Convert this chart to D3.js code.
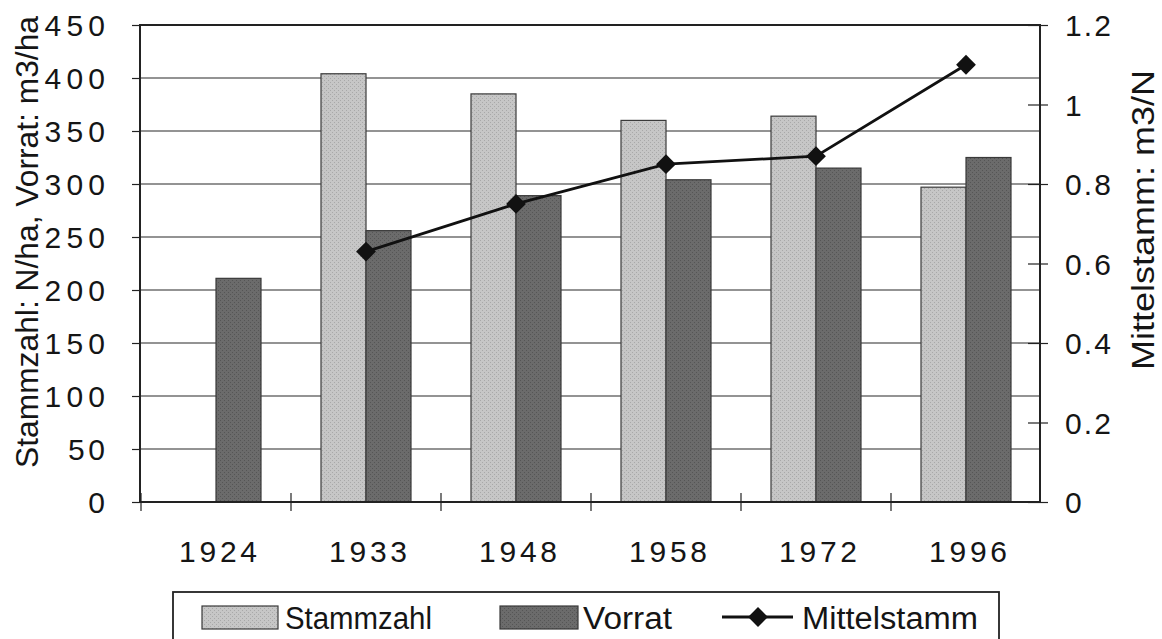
<!DOCTYPE html>
<html>
<head>
<meta charset="utf-8">
<script src="https://cdn.jsdelivr.net/npm/d3@7"></script>
<style>
  html, body { margin: 0; padding: 0; background: #fff; }
  svg { display: block; font-family: "Liberation Sans", Arial, Helvetica, sans-serif; }
</style>
</head>
<body>
<svg id="chart" width="1162" height="639"></svg>
<script>
const years = ["1924", "1933", "1948", "1958", "1972", "1996"];
const stammzahl = [null, 404, 385, 360, 364, 297];
const vorrat = [211, 256, 289, 304, 315, 325];
const mittelstamm = [null, 0.63, 0.75, 0.85, 0.87, 1.10];
const leftTicks = [0, 50, 100, 150, 200, 250, 300, 350, 400, 450];
const rightTicks = [0, 0.2, 0.4, 0.6, 0.8, 1, 1.2];
const seriesNames = ["Stammzahl", "Vorrat", "Mittelstamm"];
const leftTitle = "Stammzahl:  N/ha,  Vorrat:  m3/ha";
const rightTitle = "Mittelstamm:  m3/N";

const svg = d3.select("#chart");
const L = 140, R = 1040, T = 25, B = 502;
const colLight = "#c6c6c6", colDark = "#6b6b6b", colEdge = "#3a3a3a";
const ink = "#151515";

// texture patterns
const defs = svg.append("defs");
function texture(id, base, dot) {
  const p = defs.append("pattern").attr("id", id).attr("width", 4).attr("height", 4)
    .attr("patternUnits", "userSpaceOnUse");
  p.append("rect").attr("width", 4).attr("height", 4).attr("fill", base);
  p.append("rect").attr("x", 0).attr("y", 0).attr("width", 1).attr("height", 1).attr("fill", dot);
  p.append("rect").attr("x", 2).attr("y", 2).attr("width", 1).attr("height", 1).attr("fill", dot);
}
texture("texLight", colLight, "#a8a8a8");
texture("texDark", colDark, "#555");

const x = d3.scaleBand().domain(years).range([L + 1, R + 1]).padding(0);
const y = d3.scaleLinear().domain([0, 450]).range([B, T]);
const y2 = d3.scaleLinear().domain([0, 1.2]).range([B, T]);
const barW = 45;

// gridlines
svg.append("g").selectAll("line").data(leftTicks.filter(d => d > 0 && d < 450)).join("line")
  .attr("x1", L).attr("x2", R).attr("y1", d => y(d)).attr("y2", d => y(d))
  .attr("stroke", "#6f6f6f").attr("stroke-width", 1.4);

// bars
const data = years.map((yr, i) => ({ yr, s: stammzahl[i], v: vorrat[i], m: mittelstamm[i] }));
svg.append("g").selectAll("rect").data(data.filter(d => d.s != null)).join("rect")
  .attr("x", d => x(d.yr) + x.bandwidth() / 2 - barW)
  .attr("y", d => y(d.s)).attr("width", barW).attr("height", d => B - y(d.s))
  .attr("fill", "url(#texLight)").attr("stroke", colEdge).attr("stroke-width", 1.2);
svg.append("g").selectAll("rect").data(data.filter(d => d.v != null)).join("rect")
  .attr("x", d => x(d.yr) + x.bandwidth() / 2)
  .attr("y", d => y(d.v)).attr("width", barW).attr("height", d => B - y(d.v))
  .attr("fill", "url(#texDark)").attr("stroke", colEdge).attr("stroke-width", 1.2);

// frame
svg.append("rect").attr("x", L).attr("y", T).attr("width", R - L).attr("height", B - T)
  .attr("fill", "none").attr("stroke", "#222").attr("stroke-width", 2);

// left axis
const yAxis = d3.axisLeft(y).tickValues(leftTicks).tickSize(8).tickPadding(27);
const gy = svg.append("g").attr("transform", `translate(${L},0)`).call(yAxis);
gy.select(".domain").remove();
gy.selectAll("line").attr("stroke", "#222").attr("stroke-width", 1.2);
gy.selectAll("text").attr("font-size", 30).attr("fill", ink).attr("dy", "0.36em")
  .attr("textLength", d => 23.5 * String(d).length - 10).attr("lengthAdjust", "spacing");

// right axis
const fmt2 = d => String(+d.toFixed(1));
const yAxis2 = d3.axisRight(y2).tickValues(rightTicks).tickSize(8).tickPadding(17).tickFormat(fmt2);
const gy2 = svg.append("g").attr("transform", `translate(${R},0)`).call(yAxis2);
gy2.select(".domain").remove();
gy2.selectAll("line").attr("x1", -12).attr("stroke", "#222").attr("stroke-width", 1.2);
gy2.selectAll("text").attr("font-size", 30).attr("fill", ink).attr("dy", "0.36em")
  .attr("textLength", d => fmt2(d).length === 1 ? 15 : 46).attr("lengthAdjust", "spacing");

// x axis ticks at category boundaries
const bounds = years.map(yr => x(yr));
svg.append("g").selectAll("line").data(bounds).join("line")
  .attr("x1", d => d).attr("x2", d => d).attr("y1", B - 9).attr("y2", B + 9)
  .attr("stroke", "#222").attr("stroke-width", 1.2);
svg.append("g").selectAll("text").data(years).join("text")
  .attr("x", d => x(d) + x.bandwidth() / 2 + 2).attr("y", 562)
  .attr("text-anchor", "middle").attr("font-size", 30)
  .attr("textLength", 78).attr("lengthAdjust", "spacing")
  .attr("fill", ink).text(d => d);

// line
const lineData = data.filter(d => d.m != null);
const line = d3.line().x(d => x(d.yr) + x.bandwidth() / 2).y(d => y2(d.m));
svg.append("path").datum(lineData).attr("d", line)
  .attr("fill", "none").attr("stroke", "#111").attr("stroke-width", 2.8);
const diamond = d3.symbol().type(d3.symbolDiamond2).size(250);
svg.append("g").selectAll("path").data(lineData).join("path")
  .attr("transform", d => `translate(${x(d.yr) + x.bandwidth() / 2},${y2(d.m)})`)
  .attr("d", diamond).attr("fill", "#111");

// axis titles
svg.append("text").attr("transform", "translate(38,242) rotate(-90)")
  .attr("text-anchor", "middle").attr("font-size", 31).attr("fill", ink)
  .attr("textLength", 452).attr("lengthAdjust", "spacingAndGlyphs").text(leftTitle);
svg.append("text").attr("transform", "translate(1154,220) rotate(-90)")
  .attr("text-anchor", "middle").attr("font-size", 31).attr("fill", ink)
  .attr("textLength", 300).attr("lengthAdjust", "spacingAndGlyphs").text(rightTitle);

// legend
const lg = svg.append("g");
lg.append("rect").attr("x", 173).attr("y", 592).attr("width", 826).attr("height", 70)
  .attr("fill", "#fff").attr("stroke", "#222").attr("stroke-width", 1.8);
lg.append("rect").attr("x", 202).attr("y", 606).attr("width", 76).attr("height", 23)
  .attr("fill", "url(#texLight)").attr("stroke", colEdge).attr("stroke-width", 1.2);
lg.append("text").attr("x", 285).attr("y", 629).attr("font-size", 31).attr("fill", ink)
  .attr("textLength", 147).attr("lengthAdjust", "spacingAndGlyphs").text(seriesNames[0]);
lg.append("rect").attr("x", 500).attr("y", 606).attr("width", 78).attr("height", 23)
  .attr("fill", "url(#texDark)").attr("stroke", colEdge).attr("stroke-width", 1.2);
lg.append("text").attr("x", 583).attr("y", 629).attr("font-size", 31).attr("fill", ink)
  .attr("textLength", 89).attr("lengthAdjust", "spacingAndGlyphs").text(seriesNames[1]);
lg.append("line").attr("x1", 722).attr("x2", 793).attr("y1", 617).attr("y2", 617)
  .attr("stroke", "#111").attr("stroke-width", 2.8);
lg.append("path").attr("transform", "translate(758,617)").attr("d", diamond).attr("fill", "#111");
lg.append("text").attr("x", 802).attr("y", 629).attr("font-size", 31).attr("fill", ink)
  .attr("textLength", 176).attr("lengthAdjust", "spacingAndGlyphs").text(seriesNames[2]);
</script>
</body>
</html>
